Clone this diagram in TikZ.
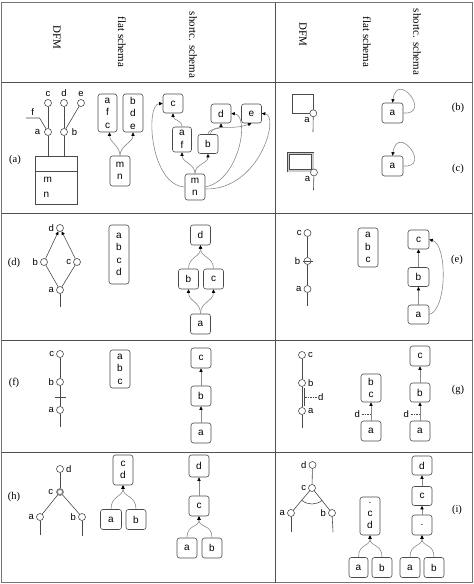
\documentclass[tikz,border=0pt]{standalone}
\usepackage{fontspec}
\setmainfont{Liberation Serif}
\setsansfont{Liberation Sans}
\usetikzlibrary{arrows.meta}
\definecolor{linec}{HTML}{4A4A4A}
\definecolor{arrc}{HTML}{8A8A8A}
\definecolor{gridc}{HTML}{505050}
\tikzset{
  box/.style={draw=linec, rounded corners=2.5pt, line width=0.6pt, minimum width=20pt, minimum height=20pt, inner sep=0pt, align=center, font=\sffamily\fontsize{10}{12.5}\selectfont},
  tip/.style={-{Triangle[length=3.5pt,width=3.2pt,color=black]}},
  arr/.style={draw=arrc, line width=0.6pt, tip},
  att/.style={circle, draw=linec, fill=white, line width=0.6pt, minimum size=7pt, inner sep=0pt},
  lab/.style={font=\sffamily\fontsize{9.5}{10}\selectfont, inner sep=0.8pt, label distance=1.2pt},
  dfm/.style={draw=linec, line width=0.6pt},
  ent/.style={draw=linec, line width=0.6pt, inner sep=0pt},
  hdr/.style={font=\fontsize{11}{12}\selectfont, rotate=-90, inner sep=0pt},
  rowlab/.style={font=\fontsize{10.5}{12}\selectfont, inner sep=0pt},
  grid/.style={draw=gridc, line width=0.7pt},
}
\begin{document}
\begin{tikzpicture}[x=1pt,y=-1pt]
\useasboundingbox (0,0) rectangle (474,584);
% ---------- grid ----------
\draw[grid, line width=1.3pt, draw=gridc!80] (1.5,2.5) rectangle (472.5,582.5);
\draw[grid] (1.5,82) -- (472.5,82);
\draw[grid] (1.5,213) -- (472.5,213);
\draw[grid] (1.5,340) -- (472.5,340);
\draw[grid] (1.5,452) -- (472.5,452);
\draw[grid] (275,2.5) -- (275,582.5);
% ---------- headers ----------
\node[hdr] (h1) at (57,37) {DFM};
\node[hdr] (h2) at (122,42) {flat schema};
\node[hdr] (h3) at (193,45) {shortc. schema};
\node[hdr] (h4) at (303,34) {DFM};
\node[hdr] (h5) at (367,42) {flat schema};
\node[hdr] (h6) at (417,42) {shortc. schema};
% ---------- row labels ----------
\node[rowlab] (la) at (15,160) {(a)};
\node[rowlab] (ld) at (14,263) {(d)};
\node[rowlab] (lf) at (14,383) {(f)};
\node[rowlab] (lh) at (14,497) {(h)};
\node[rowlab] (lb) at (458,108) {(b)};
\node[rowlab] (lc) at (458,169) {(c)};
\node[rowlab] (le) at (457,260) {(e)};
\node[rowlab] (lg) at (458,390) {(g)};
\node[rowlab] (li) at (457,510) {(i)};

% ================= row (a) =================
\node[ent, minimum width=42pt, minimum height=48pt] (fact) at (56,180) {};
\draw[dfm] ([yshift=-16pt]fact.north west) -- ([yshift=-16pt]fact.north east);
\node[lab, anchor=west, align=left, font=\sffamily\fontsize{10}{15}\selectfont] (factt) at (42.5,187.5) {m\\n};
\node[att, label={[lab,label distance=3pt]left:a}] (aa) at (48,132) {};
\node[att, label={[lab,label distance=3pt]right:b}] (ab) at (64,132) {};
\node[att, label={[lab]above:c}] (ac) at (48,103) {};
\node[att, label={[lab]above:d}] (ad) at (64,103) {};
\node[att, label={[lab]above:e}] (ae) at (81,103) {};
\draw[dfm] (aa) -- (aa |- fact.north);
\draw[dfm] (ab) -- (ab |- fact.north);
\draw[dfm] (aa) -- (ac);
\draw[dfm] (ab) -- (ad);
\draw[dfm] (ab) -- (ae);
\coordinate (af0) at (26,118);
\coordinate (af1) at (39.5,118);
\draw[dfm] (af0) -- node[lab, above=1pt] (aft) {f} (af1) -- (aa);
% flat
\node[box, minimum width=19pt, minimum height=38pt] (fafc) at (107.5,113) {a\\f\\c};
\node[box, minimum height=38pt] (fbde) at (133,113) {b\\d\\e};
\node[box, minimum height=30pt] (fmn) at (120,171) {m\\n};
\draw[arr] (fmn.north) .. controls +(0,-10) and +(0,10) .. ([xshift=2pt]fafc.south);
\draw[arr] (fmn.north) .. controls +(0,-10) and +(0,10) .. (fbde.south);
% shortcut
\node[box, minimum height=19pt] (sc) at (173,103.5) {c};
\node[box, minimum width=19pt, minimum height=25pt] (saf) at (182,139.5) {a\\f};
\node[box, minimum height=19pt] (sb) at (208,144) {b};
\node[box, minimum height=19pt] (sd) at (221,113.5) {d};
\node[box, minimum height=19pt] (se) at (251.5,113.5) {e};
\node[box, minimum height=26pt] (smn) at (195,187) {m\\n};
\draw[arr] (saf.north) .. controls +(0,-7) and +(0,7) .. (sc.south);
\draw[arr] (smn.north) .. controls +(0,-10) and +(0,10) .. (saf.south);
\draw[arr] (smn.north) .. controls +(0,-10) and +(0,10) .. (sb.south);
\draw[arr] (sb.north) .. controls +(0,-6) and +(0,6) .. (sd.south);
\draw[arr] ([xshift=2pt]sb.north) .. controls +(4,-12) and +(-22,8) .. (se.south);
\draw[arr] (smn.west) .. controls (150,185) and (145,104) .. (sc.west);
\draw[arr] (smn.east) .. controls (240,180) and (250,115) .. (sd.east);
\draw[arr] ([yshift=-2pt]smn.east) .. controls (260,190) and (280,115) .. (se.east);

% ================= row (b) =================
\node[ent, minimum width=21pt, minimum height=19pt] (bent) at (302.5,103.5) {};
\node[att, label={[lab,label distance=0pt]below left:a}] (ba) at (bent.south east) {};
\coordinate (bt) at (313,132);
\draw[dfm] (ba) -- (bt);
\node[box, minimum width=21pt] (bsa) at (392.5,113) {a};
\draw[arr] (bsa.east) .. controls +(29,2) and +(5,-33) .. (bsa.north);

% ================= row (c) =================
\node[draw=linec, double=gray!40, double distance=1.6pt, line width=0.5pt, minimum width=24.4pt, minimum height=17.4pt, inner sep=0pt] (cent) at (300.5,162) {};
\node[att, label={[lab,label distance=0pt]below left:a}] (ca) at ([shift={(1pt,-1.5pt)}]cent.south east) {};
\coordinate (ct) at (313.5,190);
\draw[dfm] (ca) -- (ct);
\node[box, minimum width=21pt] (csa) at (392.5,166) {a};
\draw[arr] (csa.east) .. controls +(29,2) and +(5,-33) .. (csa.north);

% ================= row (d) =================
\node[att, label={[lab]left:d}] (dd) at (60,228) {};
\node[att, label={[lab]left:b}] (db) at (44,262) {};
\node[att, label={[lab]left:c}] (dc) at (77,262) {};
\node[att, label={[lab]left:a}] (da) at (60,290) {};
\coordinate (dt) at (60,307);
\draw[dfm] (da) -- (db);
\draw[dfm] (da) -- (dc);
\draw[dfm] (da) -- (dt);
\draw[dfm, tip] (db) -- (dd);
\draw[dfm, tip] (dc) -- (dd);
\node[box, minimum height=59pt] (dfl) at (119,254.5) {a\\b\\c\\d};
\node[box] (dsd) at (200.5,235) {d};
\node[box] (dsb) at (188.5,279) {b};
\node[box] (dsc) at (213.5,279) {c};
\node[box] (dsa) at (200.5,324) {a};
\draw[arr] (dsa.north) .. controls +(0,-12) and +(0,12) .. (dsb.south);
\draw[arr] (dsa.north) .. controls +(0,-12) and +(0,12) .. (dsc.south);
\draw[arr] (dsb.north) .. controls +(0,-12) and +(0,12) .. (dsd.south);
\draw[arr] (dsc.north) .. controls +(0,-12) and +(0,12) .. (dsd.south);

% ================= row (e) =================
\node[att, label={[lab]left:c}] (ec) at (307.5,233) {};
\node[att, label={[lab,label distance=2.5pt]left:b}] (eb) at (307.5,261) {};
\node[att, label={[lab]left:a}] (ea) at (307.5,289) {};
\coordinate (et) at (307.5,306);
\draw[dfm] (ec) -- (eb);
\draw[dfm] (eb) -- (ea);
\draw[dfm] (ea) -- (et);
\draw[dfm] ([xshift=-5pt]eb.center) -- ([xshift=5pt]eb.center);
\node[box, minimum height=39pt] (efl) at (368,247.5) {a\\b\\c};
\node[box, minimum width=21pt, minimum height=19pt] (esc) at (418.5,239.5) {c};
\node[box, minimum width=21pt, minimum height=19pt] (esb) at (418.5,277) {b};
\node[box, minimum width=21pt, minimum height=19pt] (esa) at (418.5,314.5) {a};
\draw[arr] (esa) -- (esb);
\draw[arr] (esb) -- (esc);
\draw[arr] (esa.east) .. controls +(18,-5) and +(18,5) .. (esc.east);

% ================= row (f) =================
\node[att, label={[lab]left:c}] (fc) at (60,354) {};
\node[att, label={[lab]left:b}] (fb) at (60,382) {};
\node[att, label={[lab]left:a}] (fa) at (60,410) {};
\coordinate (ft) at (60,427);
\draw[dfm] (fc) -- (fb);
\draw[dfm] (fb) -- (fa);
\draw[dfm] (fa) -- (ft);
\coordinate (fx) at (60,397);
\draw[dfm] ([xshift=-5.5pt]fx) -- ([xshift=5.5pt]fx);
\node[box, minimum height=38pt] (ffl) at (120,369) {a\\b\\c};
\node[box] (fsc) at (201,358) {c};
\node[box] (fsb) at (201,396) {b};
\node[box] (fsa) at (201,433) {a};
\draw[arr] (fsa) -- (fsb);
\draw[arr] (fsb) -- (fsc);

% ================= row (g) =================
\node[att, label={[lab]right:c}] (gc) at (302,355) {};
\node[att, label={[lab]right:b}] (gb) at (302,383) {};
\node[att, label={[lab]right:a}] (ga) at (302,411) {};
\coordinate (gt) at (302,428);
\draw[dfm] (gc) -- (gb);
\draw[dfm] (gb) -- (ga);
\draw[dfm] (ga) -- (gt);
\draw[dfm] ([shift={(2.5pt,-1pt)}]gb.south) -- ([shift={(2.5pt,1pt)}]ga.north);
\coordinate (gd0) at (305,397);
\draw[dfm, dashed, dash pattern=on 1.5pt off 1pt] (gd0) -- ++(12,0) node[lab, right] (gdl) {d};
\node[box, minimum height=28pt] (gfbc) at (371,388) {b\\c};
\node[box] (gfa) at (371,431) {a};
\draw[arr] (gfa) -- (gfbc);
\coordinate (gd1) at (371,414);
\draw[dfm, dashed, dash pattern=on 1.5pt off 1pt] (gd1) -- ++(-10,0) node[lab, left] (gdl1) {d};
\node[box] (gsc) at (420,356) {c};
\node[box, minimum height=19pt] (gsb) at (420,392.5) {b};
\node[box] (gsa) at (420,431) {a};
\draw[arr] (gsa) -- (gsb);
\draw[arr] (gsb) -- (gsc);
\coordinate (gd2) at (420,414);
\draw[dfm, dashed, dash pattern=on 1.5pt off 1pt] (gd2) -- ++(-10,0) node[lab, left] (gdl2) {d};

% ================= row (h) =================
\node[att, label={[lab]right:d}] (hd) at (60,469) {};
\node[att, draw=gray, line width=1.6pt, minimum size=6pt, label={[lab,label distance=2pt]left:c}] (hc) at (60,492) {};
\node[att, label={[lab]left:a}] (ha) at (40,517) {};
\node[att, label={[lab]left:b}] (hb) at (82,517) {};
\coordinate (hta) at (40,535);
\coordinate (htb) at (82,536);
\draw[dfm] (hc) -- (hd);
\draw[dfm] (hc) -- (ha);
\draw[dfm] (hc) -- (hb);
\draw[dfm] (ha) -- (hta);
\draw[dfm] (hb) -- (htb);
\node[box, minimum height=30pt] (hfcd) at (123,470) {c\\d};
\node[box, minimum width=21pt] (hfa) at (111,519.5) {a};
\node[box] (hfb) at (136,519.5) {b};
\draw[arr] (hfa.north) .. controls +(0,-14) and +(0,12) .. (hfcd.south);
\draw[arr] (hfb.north) .. controls +(0,-14) and +(0,12) .. (hfcd.south);
\node[box, minimum height=22pt] (hsd) at (199,466) {d};
\node[box] (hsc) at (199,506) {c};
\node[box] (hsa) at (187,548) {a};
\node[box] (hsb) at (212,548) {b};
\draw[arr] (hsc) -- (hsd);
\draw[arr] (hsa.north) .. controls +(0,-14) and +(0,12) .. (hsc.south);
\draw[arr] (hsb.north) .. controls +(0,-14) and +(0,12) .. (hsc.south);

% ================= row (i) =================
\node[att, label={[lab]left:d}] (id) at (312.5,465) {};
\node[att, label={[lab]left:c}] (ic) at (312,488) {};
\node[att, label={[lab]left:a}] (ia) at (291,513) {};
\node[att, label={[lab]left:b}] (ib) at (332,513) {};
\coordinate (ita) at (291,532);
\coordinate (itb) at (333,532);
\coordinate (icc) at (312,488);
\draw[dfm] (ic) -- (id);
\draw[dfm] (ic) -- (ia);
\draw[dfm] (ic) -- (ib);
\draw[dfm] (ia) -- (ita);
\draw[dfm] (ib) -- (itb);
\draw[dfm] (icc) ++(50:16) arc[start angle=50, end angle=130, radius=16];
\node[box, minimum height=38pt] (ifl) at (370,516) {.\\c\\d};
\node[box, minimum width=19pt] (ifa) at (358.5,567.5) {a};
\node[box] (ifb) at (382,567.5) {b};
\draw[arr] (ifa.north) .. controls +(0,-14) and +(0,12) .. (ifl.south);
\draw[arr] (ifb.north) .. controls +(0,-14) and +(0,12) .. (ifl.south);
\node[box, minimum height=19pt] (isd) at (422,465.5) {d};
\node[box, minimum height=19pt] (isc) at (422,496) {c};
\node[box] (isx) at (422,525) {.};
\node[box] (isa) at (410,567.5) {a};
\node[box] (isb) at (434,567.5) {b};
\draw[arr] (isc) -- (isd);
\draw[arr] (isx) -- (isc);
\draw[arr] (isa.north) .. controls +(0,-14) and +(0,12) .. (isx.south);
\draw[arr] (isb.north) .. controls +(0,-14) and +(0,12) .. (isx.south);
\end{tikzpicture}
\end{document}
